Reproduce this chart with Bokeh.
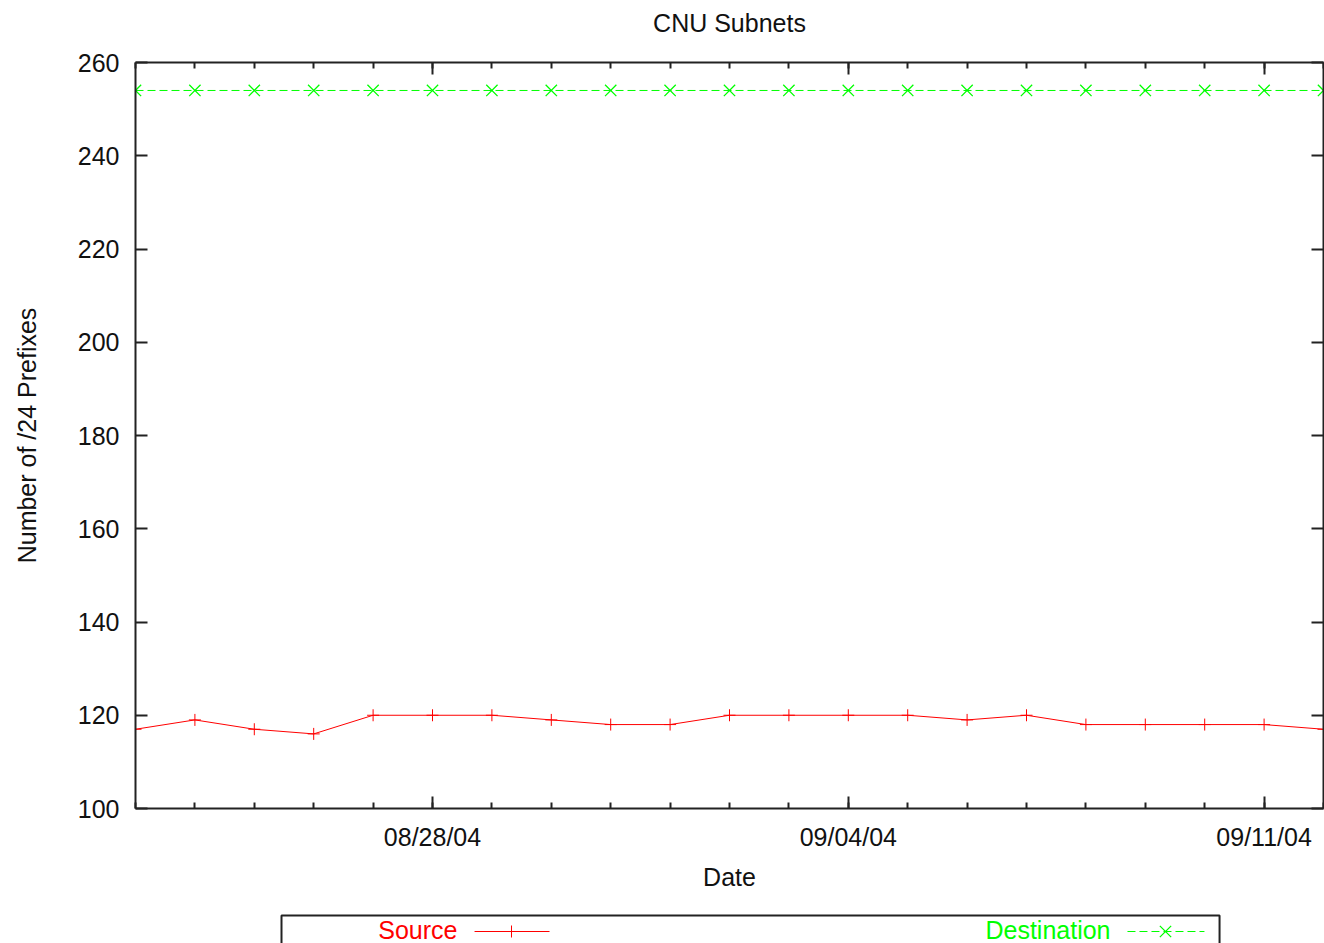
import pandas as pd
from bokeh.plotting import figure
from bokeh.models import (Range1d, FixedTicker, DatetimeAxis, LinearAxis,
                          DatetimeTickFormatter, Label, CustomJSTickFormatter)
from bokeh.layouts import column
from bokeh.embed import file_html
from bokeh.resources import INLINE

# ---------------- data ----------------
dates = ["2004-08-23", "2004-08-24", "2004-08-25", "2004-08-26", "2004-08-27",
         "2004-08-28", "2004-08-29", "2004-08-30", "2004-08-31", "2004-09-01",
         "2004-09-02", "2004-09-03", "2004-09-04", "2004-09-05", "2004-09-06",
         "2004-09-07", "2004-09-08", "2004-09-09", "2004-09-10", "2004-09-11",
         "2004-09-12"]
source_counts = [117, 119, 117, 116, 120, 120, 120, 119, 118, 118, 120,
                 120, 120, 120, 119, 120, 118, 118, 118, 118, 117]
destination_counts = [254, 254, 254, 254, 254, 254, 254, 254, 254, 254, 254,
                      254, 254, 254, 254, 254, 254, 254, 254, 254, 254]
x_major_dates = ["2004-08-28", "2004-09-04", "2004-09-11"]
y_ticks = [100, 120, 140, 160, 180, 200, 220, 240, 260]
title_text = "CNU Subnets"
x_label = "Date"
y_label = "Number of /24 Prefixes"
series_names = ["Source", "Destination"]

FONT = "Liberation Sans"
FS = "25px"
AXIS_COLOR = "#222222"
TEXT_COLOR = "#111111"
RED = "#ff0000"
GREEN = "#00ff00"

x = [d.to_pydatetime() for d in pd.to_datetime(dates)]
def to_ms(s):
    return pd.Timestamp(s).value / 1e6

major_ms = [to_ms(d) for d in x_major_dates]
minor_ms = [to_ms(d) for d in dates]

W = 1324
BL, BR = 135, 1
HH = 36    # header (title) strip
MH = 872   # main plot
LH = 35    # legend strip

# ---------------- title strip ----------------
hd = figure(width=W, height=HH, x_range=Range1d(0, 1), y_range=Range1d(0, HH),
            x_axis_type=None, y_axis_type=None,
            output_backend="svg", toolbar_location=None,
            min_border_left=BL, min_border_right=BR,
            min_border_top=0, min_border_bottom=0)
hd.outline_line_color = None
hd.border_fill_color = "white"
hd.background_fill_color = "white"
hd.add_layout(Label(x=0.5, y=HH - 22, text=title_text, text_align="center",
                    text_baseline="middle", text_font=FONT, text_font_size=FS,
                    text_color=TEXT_COLOR))

# ---------------- main plot ----------------
p = figure(width=W, height=MH,
           x_range=Range1d(x[0], x[-1]), y_range=Range1d(y_ticks[0], y_ticks[-1]),
           x_axis_type=None, y_axis_type=None,
           output_backend="svg", toolbar_location=None,
           min_border_left=BL, min_border_right=BR,
           min_border_top=62 - HH, min_border_bottom=100)
p.outline_line_color = None
p.background_fill_color = "white"
p.border_fill_color = "white"

fmt = DatetimeTickFormatter(days="%m/%d/%y", months="%m/%d/%y", hours="%m/%d/%y",
                            years="%m/%d/%y", hourmin="%m/%d/%y")
blank = CustomJSTickFormatter(code="return ''")

def style_axis(ax, show_labels, minor):
    ax.axis_line_color = AXIS_COLOR
    ax.axis_line_width = 2
    ax.major_tick_line_color = AXIS_COLOR
    ax.major_tick_line_width = 2
    ax.major_tick_in = 12
    ax.major_tick_out = 0
    if minor:
        ax.minor_tick_line_color = AXIS_COLOR
        ax.minor_tick_line_width = 2
        ax.minor_tick_in = 6
        ax.minor_tick_out = 0
    else:
        ax.minor_tick_line_color = None
    ax.major_label_text_font = FONT
    ax.major_label_text_color = TEXT_COLOR
    ax.major_label_text_font_size = FS
    if not show_labels:
        ax.major_label_standoff = 0
    ax.axis_label_text_font = FONT
    ax.axis_label_text_font_size = FS
    ax.axis_label_text_font_style = "normal"
    ax.axis_label_text_color = TEXT_COLOR

xb = DatetimeAxis(ticker=FixedTicker(ticks=major_ms, minor_ticks=minor_ms),
                  formatter=fmt, axis_label=x_label)
style_axis(xb, True, True)
xb.major_label_standoff = 14
xb.axis_label_standoff = 9
p.add_layout(xb, "below")

xt = DatetimeAxis(ticker=FixedTicker(ticks=major_ms, minor_ticks=minor_ms),
                  formatter=blank)
style_axis(xt, False, True)
p.add_layout(xt, "above")

yl = LinearAxis(ticker=FixedTicker(ticks=y_ticks), axis_label=y_label)
style_axis(yl, True, False)
yl.major_label_standoff = 16
yl.axis_label_standoff = 34
p.add_layout(yl, "left")

yr = LinearAxis(ticker=FixedTicker(ticks=y_ticks), formatter=blank)
style_axis(yr, False, False)
p.add_layout(yr, "right")

p.line(x, source_counts, line_color=RED, line_width=1)
p.scatter(x, source_counts, marker="cross", size=12, line_color=RED, line_width=1)
p.line(x, destination_counts, line_color=GREEN, line_width=1, line_dash="8 4")
p.scatter(x, destination_counts, marker="x", size=16, line_color=GREEN, line_width=1.3)

# ---------------- legend box (gnuplot style) ----------------
lg = figure(width=W, height=LH, x_range=Range1d(0, 1), y_range=Range1d(0, LH),
            x_axis_type=None, y_axis_type=None,
            output_backend="svg", toolbar_location=None,
            min_border_left=BL, min_border_right=BR,
            min_border_top=0, min_border_bottom=0)
lg.outline_line_color = None
lg.border_fill_color = "white"
lg.background_fill_color = "white"

# box (bottom edge runs past the page bottom, like the reference)
lg.quad(left=[0.1229], right=[0.9125], top=[LH - 7], bottom=[-20],
        fill_color=None, line_color=AXIS_COLOR, line_width=2)

ty = 14
sy = 12
lg.add_layout(Label(x=0.2710, y=ty, text=series_names[0], text_align="right",
                    text_baseline="middle", text_font=FONT, text_font_size=FS,
                    text_color=RED))
lg.line([0.2854, 0.3485], [sy, sy], line_color=RED, line_width=1)
lg.scatter([0.3165], [sy], marker="cross", size=12, line_color=RED)

lg.add_layout(Label(x=0.8207, y=ty, text=series_names[1], text_align="right",
                    text_baseline="middle", text_font=FONT, text_font_size=FS,
                    text_color=GREEN))
lg.line([0.8350, 0.8998], [sy, sy], line_color=GREEN, line_width=1, line_dash="8 4")
lg.scatter([0.8670], [sy], marker="x", size=16, line_color=GREEN, line_width=1.3)

layout = column(hd, p, lg, spacing=0)
open("out.html", "w").write(file_html(layout, INLINE))
